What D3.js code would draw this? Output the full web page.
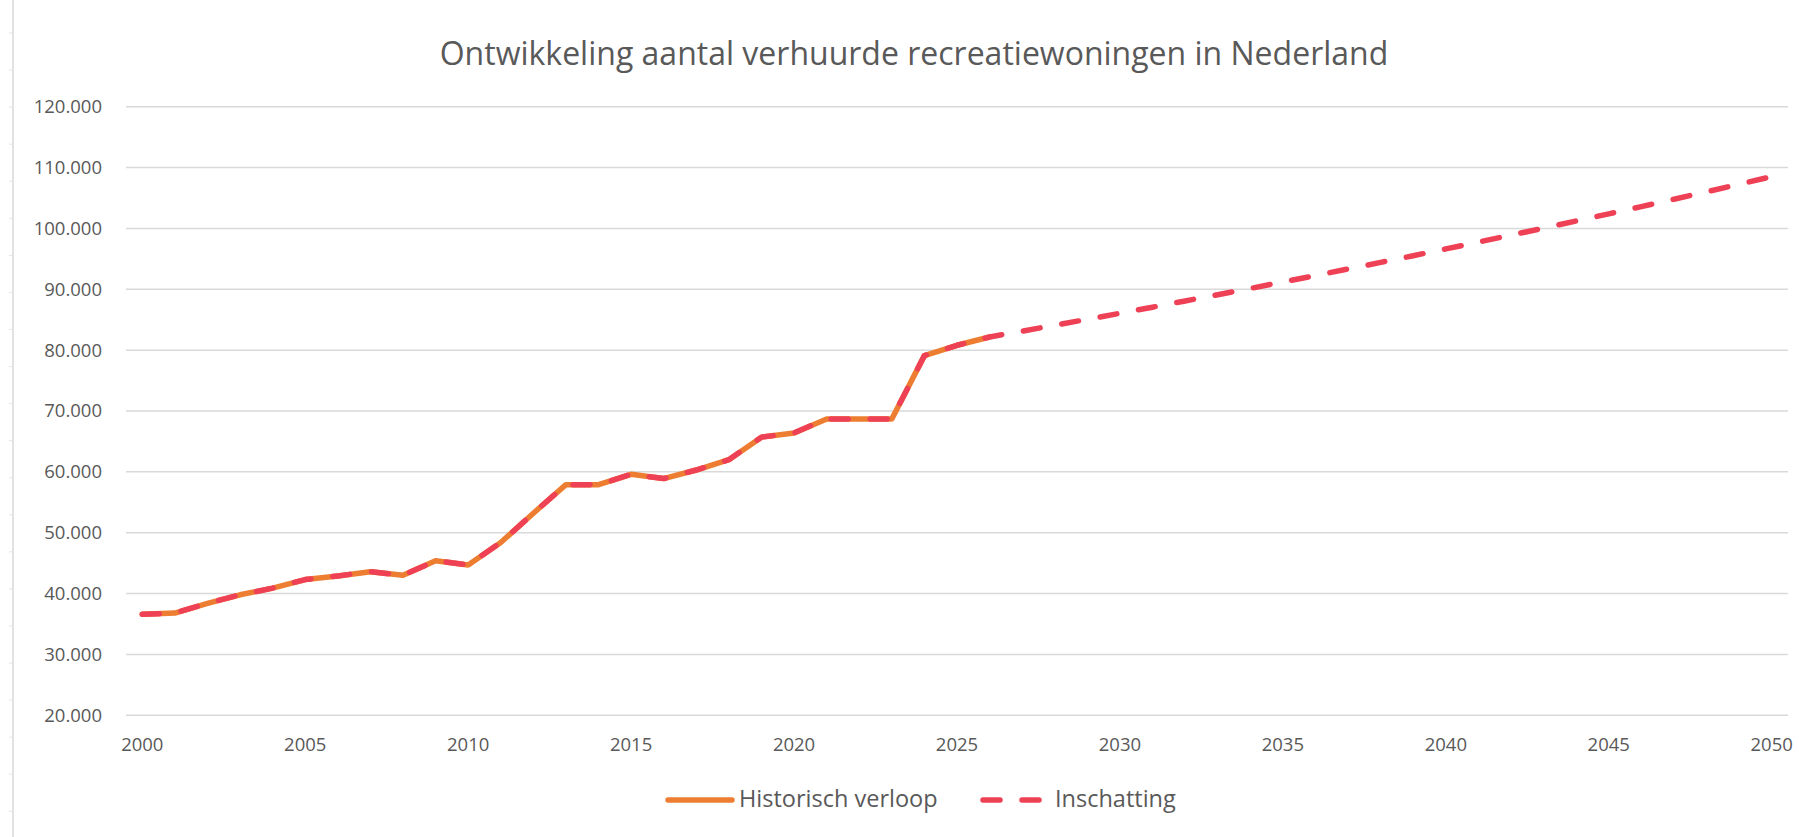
<!doctype html>
<html lang="nl">
<head>
    <meta charset="utf-8"/>
    <title>Verhuurde recreatiewoningen</title>
    <script src="https://d3js.org/d3.v7.min.js"></script>
    <style>
        body {
            margin: 0;
            padding: 0;
            background: #fff;
        }

        text {
            font-family: 'Open Sans', sans-serif;
            fill: #595959;
        }
    </style>
</head>
<body>
<script>

    // jaren op de x-as
    const jaren = d3.range(2000, 2051)

    // historisch verloop 2000 - 2026
    const historisch = [
        36600, 36800, 38400, 39800, 40900, 42300, 42900, 43600, 43000, 45400,
        44700, 48400, 53200, 57900, 57900, 59600, 58900, 60300, 62000, 65700,
        66400, 68700, 68700, 68700, 79100, 80800, 82160
    ]

    // inschatting 2027 - 2050
    const inschatting = [
        83120, 84090, 85070, 86060, 87060, 88080, 89100, 90140, 91190,
        92260, 93330, 94420, 95520, 96630, 97760, 98900, 100050, 101220, 102400,
        103590, 104800, 106020, 107260, 108510
    ]

    const yTicks = [20000, 30000, 40000, 50000, 60000, 70000, 80000, 90000, 100000, 110000, 120000]
    const xTicks = [2000, 2005, 2010, 2015, 2020, 2025, 2030, 2035, 2040, 2045, 2050]

    const titel = 'Ontwikkeling aantal verhuurde recreatiewoningen in Nederland'
    const legendaNamen = ['Historisch verloop', 'Inschatting']

    const oranje = '#ED7D31'
    const rood = '#EF4155'

    // de gestippelde lijn loopt ook over het historische deel
    const histData = historisch.map((v, i) => ({jaar: jaren[i], waarde: v}))
    const schatData = historisch.concat(inschatting).map((v, i) => ({jaar: jaren[i], waarde: v}))

    const width = 1799
    const height = 837

    const svg = d3.select('body')
        .append('svg')
        .attr('width', width)
        .attr('height', height)

    // stukje werkblad links van de grafiek
    svg.append('line')
        .attr('x1', 13).attr('x2', 13)
        .attr('y1', 0).attr('y2', height)
        .attr('stroke', '#d9d9d9')
        .attr('stroke-width', 1.5)
    svg.selectAll('.rij')
        .data(d3.range(33, height, 37.06))
        .enter()
        .append('line')
        .attr('x1', 9).attr('x2', 13)
        .attr('y1', d => d).attr('y2', d => d)
        .attr('stroke', '#e4e4e4')

    const x = d3.scalePoint()
        .domain(jaren)
        .range([126, 1788])
        .padding(0.5)

    const y = d3.scaleLinear()
        .domain([20000, 120000])
        .range([715.3, 106.7])

    const nl = d3.formatLocale({decimal: ',', thousands: '.', grouping: [3], currency: ['€', '']})
    const fmt = nl.format(',d')

    // rasterlijnen
    svg.append('g')
        .selectAll('line')
        .data(yTicks)
        .enter()
        .append('line')
        .attr('x1', 126)
        .attr('x2', 1788)
        .attr('y1', d => y(d))
        .attr('y2', d => y(d))
        .attr('stroke', '#d9d9d9')
        .attr('stroke-width', 1.5)

    // y-as labels
    svg.append('g')
        .selectAll('text')
        .data(yTicks)
        .enter()
        .append('text')
        .attr('x', 102)
        .attr('y', d => y(d))
        .attr('dy', '0.35em')
        .attr('text-anchor', 'end')
        .style('font-size', '18.5px')
        .text(d => fmt(d))

    // x-as labels
    svg.append('g')
        .selectAll('text')
        .data(xTicks)
        .enter()
        .append('text')
        .attr('x', d => x(d))
        .attr('y', 751)
        .attr('text-anchor', 'middle')
        .style('font-size', '18.5px')
        .text(d => d)

    const lijn = d3.line()
        .x(d => x(d.jaar))
        .y(d => y(d.waarde))

    svg.append('path')
        .datum(histData)
        .attr('d', lijn)
        .attr('fill', 'none')
        .attr('stroke', oranje)
        .attr('stroke-width', 5.5)
        .attr('stroke-linejoin', 'round')
        .attr('stroke-linecap', 'round')

    svg.append('path')
        .datum(schatData)
        .attr('d', lijn)
        .attr('fill', 'none')
        .attr('stroke', rood)
        .attr('stroke-width', 5.5)
        .attr('stroke-dasharray', '17,22')
        .attr('stroke-linejoin', 'round')
        .attr('stroke-linecap', 'round')

    // titel
    svg.append('text')
        .attr('x', 914)
        .attr('y', 65)
        .attr('text-anchor', 'middle')
        .style('font-size', '32px')
        .text(titel)

    // legenda
    const leg = svg.append('g')
    leg.append('line')
        .attr('x1', 668).attr('x2', 732)
        .attr('y1', 800).attr('y2', 800)
        .attr('stroke', oranje)
        .attr('stroke-width', 5.5)
        .attr('stroke-linecap', 'round')
    leg.append('text')
        .attr('x', 739)
        .attr('y', 807)
        .style('font-size', '23.5px')
        .text(legendaNamen[0])
    leg.append('line')
        .attr('x1', 983).attr('x2', 1041)
        .attr('y1', 800).attr('y2', 800)
        .attr('stroke', rood)
        .attr('stroke-width', 5.5)
        .attr('stroke-dasharray', '17,22')
        .attr('stroke-linecap', 'round')
    leg.append('text')
        .attr('x', 1055)
        .attr('y', 807)
        .style('font-size', '23.5px')
        .text(legendaNamen[1])

</script>
</body>
</html>
